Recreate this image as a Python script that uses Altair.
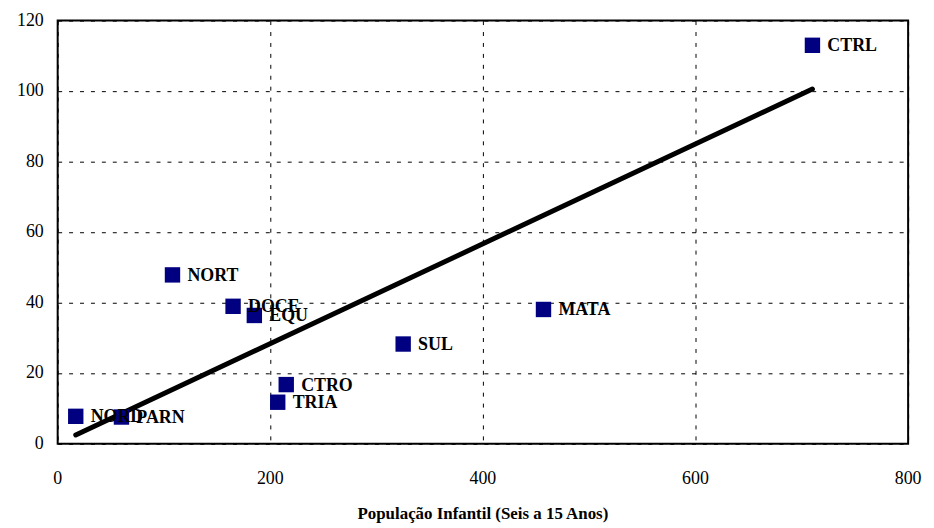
import altair as alt
import pandas as pd

regions = ["NORD", "PARN", "NORT", "DOCE", "EQU", "CTRO", "TRIA", "SUL", "MATA", "CTRL"]
pop_infantil = [17, 60, 108, 165, 185, 215, 207, 325, 457, 710]
valores = [7.8, 7.6, 47.9, 39.0, 36.4, 16.8, 11.8, 28.3, 38.1, 113.0]

trend_x = [17, 710]
trend_y = [2.5, 100.6]

x_ticks = [0, 200, 400, 600, 800]
y_ticks = [0, 20, 40, 60, 80, 100, 120]
x_title = "População Infantil (Seis a 15 Anos)"

df = pd.DataFrame({"region": regions, "x": pop_infantil, "y": valores})
tdf = pd.DataFrame({"x": trend_x, "y": trend_y})
xt = pd.DataFrame({"v": x_ticks, "t": [str(v) for v in x_ticks]})
yt = pd.DataFrame({"v": y_ticks, "t": [str(v) for v in y_ticks]})
ttl = pd.DataFrame({"t": [x_title]})

FONT = "Times New Roman"

xscale = alt.Scale(domain=[0, 800], nice=False, zero=True)
yscale = alt.Scale(domain=[0, 120], nice=False)

xaxis = alt.Axis(title=None, values=x_ticks, labels=False,
                 grid=True, gridColor="black", gridDash=[4, 7], gridWidth=1, gridOpacity=1,
                 ticks=False, domain=False)
yaxis = alt.Axis(title=None, values=y_ticks, labels=False,
                 grid=True, gridColor="black", gridDash=[4, 7], gridWidth=1, gridOpacity=1,
                 ticks=False, domain=False)

X = alt.X("x:Q", scale=xscale, axis=xaxis)
Y = alt.Y("y:Q", scale=yscale, axis=yaxis)

trend = alt.Chart(tdf).mark_line(color="black", strokeWidth=5, strokeCap="round").encode(x=X, y=Y)

points = alt.Chart(df).mark_square(size=240, color="#000080", opacity=1).encode(x=X, y=Y)

labels = alt.Chart(df).mark_text(align="left", baseline="middle", dx=15, dy=1,
                                 font=FONT, fontSize=18, fontWeight="bold",
                                 color="black").encode(x=X, y=Y, text="region:N")

xlab = alt.Chart(xt).mark_text(align="center", baseline="middle", font=FONT, fontSize=18,
                               color="black").encode(
    x=alt.X("v:Q", scale=xscale, axis=xaxis), y=alt.value(461), text="t:N")

ylab = alt.Chart(yt).mark_text(align="right", baseline="middle", font=FONT, fontSize=18,
                               color="black").encode(
    y=alt.Y("v:Q", scale=yscale, axis=yaxis), x=alt.value(-14), text="t:N")

title = alt.Chart(ttl).mark_text(align="center", baseline="middle", font=FONT, fontSize=17,
                                 fontWeight="bold", color="black").encode(
    x=alt.value(428), y=alt.value(497), text="t:N")

chart = alt.layer(trend, points, labels, xlab, ylab, title).properties(
    width=856, height=426,
    autosize=alt.AutoSizeParams(type="none"),
    padding={"left": 50, "top": 11, "right": 18, "bottom": 80},
).configure(background="white", font=FONT).configure_view(stroke="black", strokeWidth=2)

chart.save("out.html", embed_options={"renderer": "svg", "actions": False})
